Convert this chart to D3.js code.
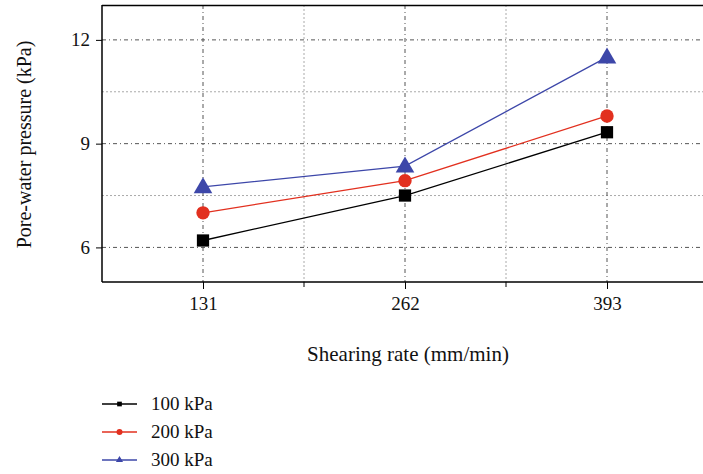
<!DOCTYPE html>
<html><head><meta charset="utf-8">
<script src="https://cdn.jsdelivr.net/npm/d3@7"></script>
<style>body{margin:0;background:#fff}svg{display:block}</style>
</head><body><svg id="c" width="703" height="474"></svg>
<script>
const categories = [131, 262, 393];
const seriesNames = ["100 kPa", "200 kPa", "300 kPa"];
const s100 = [6.2, 7.5, 9.33];
const s200 = [7.0, 7.93, 9.8];
const s300 = [7.75, 8.35, 11.5];
const yTicks = [6, 9, 12];
const yMinor = [7.5, 10.5];
const xMinor = [196.5, 327.5];
const colors = ["#000000", "#e2301f", "#3d47a9"];
const symbols = [d3.symbolSquare, d3.symbolCircle, d3.symbolTriangle];
const series = [s100, s200, s300];

const svg = d3.select("#c");
const L = 102, T = 5, B = 282;
const x = d3.scaleLinear().domain([65.5, 458.5]).range([L, L + 606]);
const y = d3.scaleLinear().domain([5, 13]).range([B, T + 0.3]);
const font = "'Liberation Serif', 'DejaVu Serif', serif";

const g = svg.append("g");
// minor grid
yMinor.forEach(v => g.append("line").attr("x1", L).attr("x2", 703).attr("y1", y(v)).attr("y2", y(v))
  .attr("stroke", "#aaa").attr("stroke-width", 1).attr("stroke-dasharray", "2,2"));
xMinor.forEach(v => g.append("line").attr("x1", x(v)).attr("x2", x(v)).attr("y1", T).attr("y2", B)
  .attr("stroke", "#aaa").attr("stroke-width", 1).attr("stroke-dasharray", "2,2"));
// major grid
yTicks.forEach(v => g.append("line").attr("x1", L).attr("x2", 703).attr("y1", y(v)).attr("y2", y(v))
  .attr("stroke", "#555").attr("stroke-width", 1).attr("stroke-dasharray", "4,3,1,3"));
categories.forEach(v => g.append("line").attr("x1", x(v)).attr("x2", x(v)).attr("y1", T).attr("y2", B)
  .attr("stroke", "#555").attr("stroke-width", 1).attr("stroke-dasharray", "4,3,1,3"));

// frame
svg.append("line").attr("x1", L).attr("x2", 703).attr("y1", T + 0.5).attr("y2", T + 0.5).attr("stroke", "#000").attr("stroke-width", 1.5);

// axes
const xAxis = d3.axisBottom(x).tickValues(categories).tickSize(7).tickPadding(8).tickFormat(d3.format("d"));
const gx = svg.append("g").attr("transform", `translate(0,${B})`).call(xAxis);
gx.select(".domain").attr("d", `M${L},0H703`).attr("stroke-width", 1.5);
gx.selectAll(".tick text").attr("font-family", font).attr("font-size", 19).attr("fill", "#111");
gx.selectAll(".minor").data(xMinor).enter().append("line").attr("x1", d => x(d)).attr("x2", d => x(d))
  .attr("y1", 0).attr("y2", 5).attr("stroke", "#000");

const yAxis = d3.axisLeft(y).tickValues(yTicks).tickSize(6).tickPadding(6);
const gy = svg.append("g").attr("transform", `translate(${L},0)`).call(yAxis);
gy.select(".domain").attr("d", `M0,${T}V${B}`).attr("stroke-width", 1.5);
gy.selectAll(".tick text").attr("font-family", font).attr("font-size", 19).attr("fill", "#111");

// titles
svg.append("text").attr("x", 408).attr("y", 361).attr("text-anchor", "middle")
  .attr("font-family", font).attr("font-size", 21).attr("fill", "#111").text("Shearing rate (mm/min)");
svg.append("text").attr("transform", `translate(31,${(T + B) / 2 + 1}) rotate(-90)`).attr("text-anchor", "middle")
  .attr("font-family", font).attr("font-size", 20).attr("fill", "#111").text("Pore-water pressure (kPa)");

// series
const line = d3.line().x((d, i) => x(categories[i])).y(d => y(d));
const sizes = [150, 140, 150];
series.forEach((s, k) => {
  svg.append("path").attr("d", line(s)).attr("fill", "none").attr("stroke", colors[k]).attr("stroke-width", 1.3);
  svg.selectAll(null).data(s).enter().append("path")
    .attr("transform", (d, i) => `translate(${x(categories[i])},${y(d) + (k === 2 ? 1 : 0)})`)
    .attr("d", d3.symbol().type(symbols[k]).size(sizes[k])).attr("fill", colors[k]);
});

// legend
const lg = [404, 432, 460];
seriesNames.forEach((n, k) => {
  svg.append("line").attr("x1", 102).attr("x2", 137).attr("y1", lg[k]).attr("y2", lg[k]).attr("stroke", colors[k]).attr("stroke-width", 1.3);
  svg.append("path").attr("transform", `translate(119.5,${lg[k]})`).attr("d", d3.symbol().type(symbols[k]).size(k === 1 ? 28 : 22)).attr("fill", colors[k]);
  svg.append("text").attr("x", 151).attr("y", lg[k] + 6).attr("font-family", font).attr("font-size", 19).attr("fill", "#111").text(n);
});
</script></body></html>
